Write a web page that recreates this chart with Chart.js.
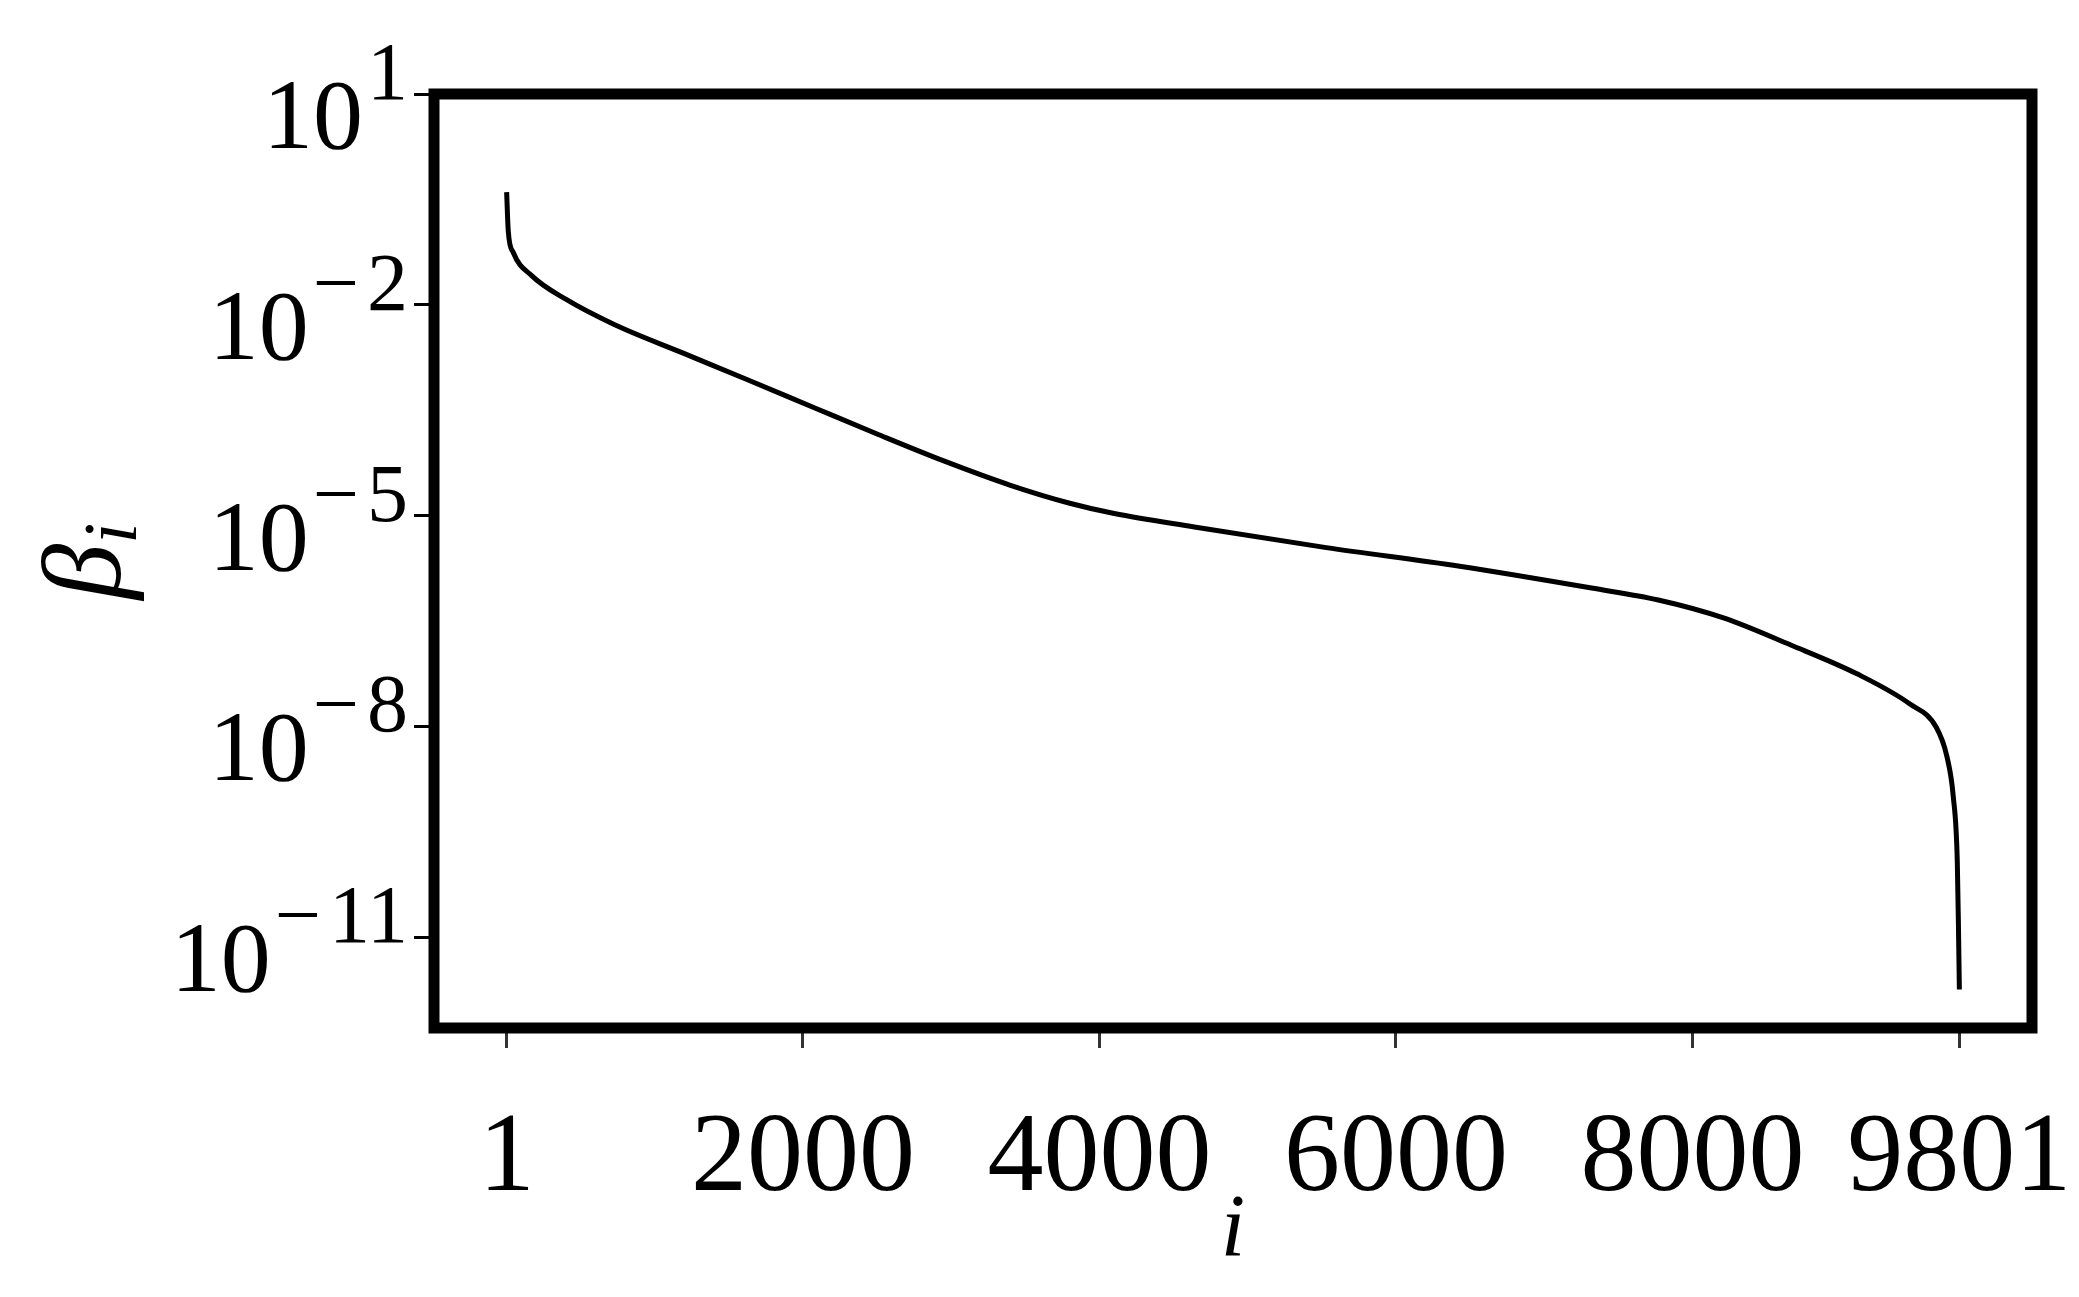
<!DOCTYPE html>
<html>
<head>
<meta charset="utf-8">
<script src="https://cdn.jsdelivr.net/npm/chart.js@4.4.1/dist/chart.umd.min.js"></script>
<style>
  body { margin: 0; background: #fff; }
  #wrap { width: 2079px; height: 1297px; }
</style>
</head>
<body>
<div id="wrap"><canvas id="betaChart" width="2079" height="1297"></canvas></div>
<script>
// index i and the value beta_i (log scale)
const idx = [1, 12, 45, 170, 400, 730, 1180, 1630, 2080, 2500, 2950, 3400, 3800, 4100,
             4640, 5530, 6430, 7320, 7770, 8210, 8660, 9110, 9465, 9644, 9716, 9760, 9787, 9795, 9801];
const beta = [4.0e-1, 1.12e-1, 5.6e-2, 2.6e-2, 1.2e-2, 5.2e-3, 2.1e-3, 8.5e-4, 3.4e-4, 1.45e-4,
              6.0e-5, 2.7e-5, 1.5e-5, 1.07e-5, 6.9e-6, 3.5e-6, 1.9e-6, 9.3e-7, 6.3e-7, 3.5e-7,
              1.45e-7, 5.6e-8, 2.1e-8, 9.8e-9, 3.8e-9, 1.0e-9, 1.2e-10, 1.35e-11, 1.8e-12];

// tick labels
const xTicks = [1, 2000, 4000, 6000, 8000, 9801];
const yTickExps = [1, -2, -5, -8, -11];

const TICK_FONT = 112;
const BASE_FONT = 100;
const SUP_FONT = 82;
const SERIF = '"Liberation Serif", "Times New Roman", serif';

// frame, tick labels and axis titles drawn with the scales' own pixel positions
const framePlugin = {
    id: 'framePlugin',
    afterDraw(chart) {
        const ctx = chart.ctx;
        const a = chart.chartArea;
        const xs = chart.scales.x;
        const ys = chart.scales.y;
        ctx.save();
        ctx.strokeStyle = '#000';
        ctx.lineWidth = 11;
        ctx.strokeRect(a.left, a.top, a.right - a.left, a.bottom - a.top);

        ctx.fillStyle = '#000';
        ctx.textBaseline = 'alphabetic';

        // x tick labels
        ctx.font = `${TICK_FONT}px ${SERIF}`;
        ctx.textAlign = 'center';
        xTicks.forEach(v => {
            ctx.fillText(String(v), xs.getPixelForValue(v), a.bottom + 162);
        });

        // y tick labels: 10 with a raised exponent
        yTickExps.forEach(e => {
            const py = ys.getPixelForValue(Math.pow(10, e));
            let x = a.left - 26;
            ctx.textAlign = 'right';
            ctx.font = `${SUP_FONT}px ${SERIF}`;
            const digits = String(Math.abs(e));
            ctx.fillText(digits, x, py + 5);
            x -= ctx.measureText(digits).width;
            if (e < 0) {
                x -= 8;
                ctx.fillText('\u2212', x, py + 5);
                x -= ctx.measureText('\u2212').width;
            }
            ctx.font = `${BASE_FONT}px ${SERIF}`;
            ctx.fillText('10', x - 4, py + 54);
        });

        // x title
        ctx.textAlign = 'center';
        ctx.font = `italic 88px ${SERIF}`;
        ctx.fillText('i', (a.left + a.right) / 2, 1255);

        // y title (rotated)
        ctx.translate(120, (a.top + a.bottom) / 2);
        ctx.rotate(-Math.PI / 2);
        ctx.font = `italic ${TICK_FONT}px ${SERIF}`;
        const bw = ctx.measureText('\u03b2').width;
        ctx.font = `italic 76px ${SERIF}`;
        const iw = ctx.measureText('i').width;
        const x0 = -(bw + iw) / 2;
        ctx.textAlign = 'left';
        ctx.font = `italic ${TICK_FONT}px ${SERIF}`;
        ctx.fillText('\u03b2', x0, 0);
        ctx.font = `italic 76px ${SERIF}`;
        ctx.fillText('i', x0 + bw, 16);
        ctx.restore();
    }
};

const ctx = document.getElementById('betaChart').getContext('2d');
window.betaChart = new Chart(ctx, {
    type: 'line',
    data: {
        labels: idx,
        datasets: [{
            data: idx.map((v, k) => ({ x: v, y: beta[k] })),
            borderColor: '#000',
            borderWidth: 5,
            pointRadius: 0,
            fill: false,
            cubicInterpolationMode: 'monotone'
        }]
    },
    options: {
        responsive: false,
        animation: false,
        devicePixelRatio: 1,
        layout: { padding: { left: 414, right: 47, top: 94, bottom: 249 } },
        plugins: { legend: { display: false }, tooltip: { enabled: false } },
        scales: {
            x: {
                type: 'linear',
                min: -489,
                max: 10291,
                afterBuildTicks: scale => { scale.ticks = xTicks.map(v => ({ value: v })); },
                ticks: { display: false },
                border: { display: false },
                grid: { drawOnChartArea: false, drawTicks: true, tickLength: 20, color: '#333', lineWidth: 3 }
            },
            y: {
                type: 'logarithmic',
                min: 5.1e-13,
                max: 10,
                afterBuildTicks: scale => { scale.ticks = yTickExps.map(e => ({ value: Math.pow(10, e) })); },
                ticks: { display: false },
                border: { display: false },
                grid: { drawOnChartArea: false, drawTicks: true, tickLength: 20, color: '#000', lineWidth: 3 }
            }
        }
    },
    plugins: [framePlugin]
});
</script>
</body>
</html>
